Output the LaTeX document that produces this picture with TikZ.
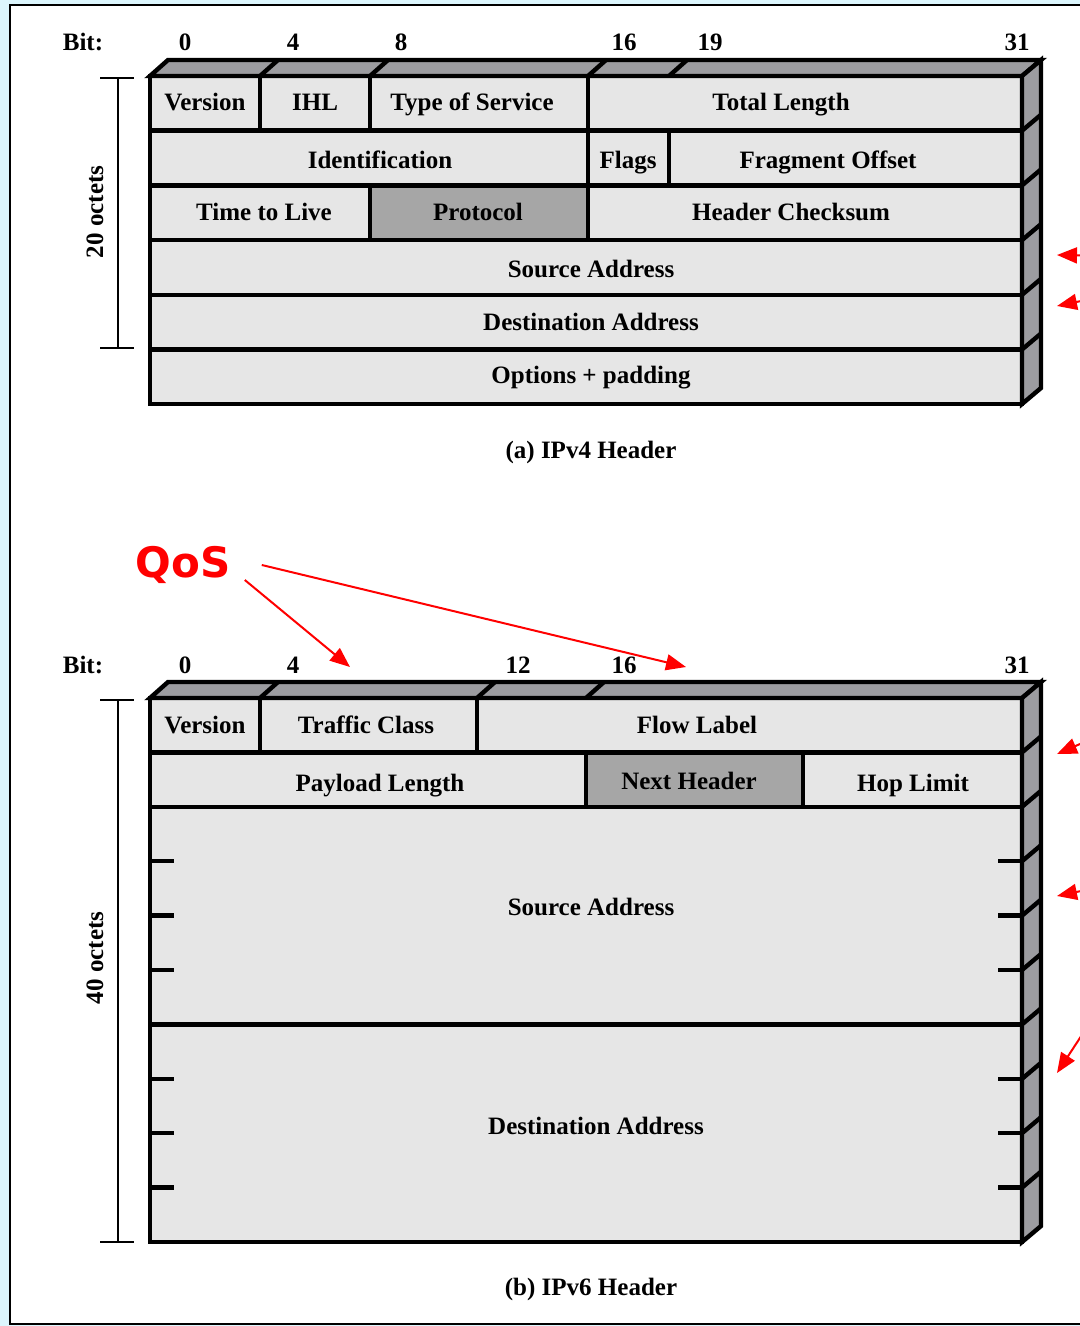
\documentclass[tikz,border=0pt]{standalone}
\usepackage{fontspec}
\setmainfont{Liberation Serif}
\newfontfamily\qosfont{DejaVu Sans}
\usetikzlibrary{arrows.meta, positioning}
\definecolor{bgcyan}{RGB}{220,246,253}
\definecolor{cellgray}{RGB}{230,230,230}
\definecolor{fielddark}{RGB}{166,166,166}
\definecolor{facegray}{RGB}{156,156,160}
\definecolor{qosred}{RGB}{255,0,0}

\begin{document}
\begin{tikzpicture}[
    x=0.5pt, y=-0.5pt,
    frame/.style={line width=2.2pt, line join=miter},
    face/.style={frame, fill=facegray},
    fld/.style={font=\fontsize{12.5}{14}\selectfont\bfseries, inner sep=0pt,
                text height=8.5pt, text depth=2.5pt},
    octets/.style={line width=0.8pt},
    qoslbl/.style={font=\qosfont\bfseries\fontsize{21}{24}\selectfont, text=qosred, inner sep=0pt},
    qosarrow/.style={-{Triangle[length=10pt, width=8pt]}, qosred, line width=1pt}
]
\clip (0,0) rectangle (1080,1326);
\fill[bgcyan] (0,0) rectangle (1080,1326);
\draw[fill=white, line width=1pt] (10,5) rectangle (1120,1324);

% ---- IPv4 header ----
\fill[cellgray]  (150,76) rectangle (1022,404);
\fill[fielddark] (370,185.4) rectangle (588,240.1);
\draw[face] (150,76) -- (168,60) -- (1041,60) -- (1022,76) -- cycle;
\draw[face] (1022,76) -- (1041,60) -- (1041,388) -- (1022,404) -- cycle;
\draw[frame] (150,76) rectangle (1022,404);
\foreach \y in {130.7,185.4,240.1,294.8,349.5} {
  \draw[frame] (150,\y) -- (1022,\y);
  \draw[frame] (1022,\y) -- (1041,\y-16);
}
\foreach \x in {260,370,588,669} \draw[frame] (\x,76) -- (\x+18,60);
\draw[frame] (260,76) -- (260,130.7) (370,76) -- (370,130.7) (588,76) -- (588,130.7);
\draw[frame] (588,130.7) -- (588,185.4) (669,130.7) -- (669,185.4);
\draw[frame] (370,185.4) -- (370,240.1) (588,185.4) -- (588,240.1);

\node[fld] (v4bit) at (83,45)  {Bit:};
\node[fld] (v4b0)  at (185,45) {0};
\node[fld] (v4b4)  at (293,45) {4};
\node[fld] (v4b8)  at (401,45) {8};
\node[fld] (v4b16) at (624,45) {16};
\node[fld] (v4b19) at (710,45) {19};
\node[fld] (v4b31) at (1017,45) {31};

\node[fld] (v4ver)   at (205,105) {Version};
\node[fld] (v4ihl)   at (315,105) {IHL};
\node[fld] (v4tos)   at (472,105) {Type of Service};
\node[fld] (v4len)   at (781,105) {Total Length};
\node[fld] (v4id)    at (380,163) {Identification};
\node[fld] (v4flags) at (628,163) {Flags};
\node[fld] (v4frag)  at (828,163) {Fragment Offset};
\node[fld] (v4ttl)   at (264,215) {Time to Live};
\node[fld] (v4proto) at (478,215) {Protocol};
\node[fld] (v4chk)   at (791,215) {Header Checksum};
\node[fld] (v4src)   at (591,272) {Source Address};
\node[fld] (v4dst)   at (591,324) {Destination Address};
\node[fld] (v4opt)   at (591,377) {Options + padding};

\draw[octets] (100,78) -- (134,78) (118,78) -- (118,348) (100,348) -- (134,348);
\node[fld, rotate=90] (v4oct) at (97,212) {20 octets};
\node[fld] (v4cap) at (591,452) {(a) IPv4 Header};

% ---- IPv6 header ----
\fill[cellgray]  (150,698) rectangle (1022,1242);
\fill[fielddark] (586,752.4) rectangle (803,806.8);
\draw[face] (150,698) -- (168,682) -- (1041,682) -- (1022,698) -- cycle;
\draw[face] (1022,698) -- (1041,682) -- (1041,1226) -- (1022,1242) -- cycle;
\draw[frame] (150,698) rectangle (1022,1242);
\foreach \y in {752.4,806.8,1024.4} \draw[frame] (150,\y) -- (1022,\y);
\foreach \y in {861.2,915.6,970,1078.8,1133.2,1187.6}
  \draw[frame] (150,\y) -- (174,\y) (998,\y) -- (1022,\y);
\foreach \y in {752.4,806.8,861.2,915.6,970,1024.4,1078.8,1133.2,1187.6}
  \draw[frame] (1022,\y) -- (1041,\y-16);
\foreach \x in {260,477,586} \draw[frame] (\x,698) -- (\x+18,682);
\draw[frame] (260,698) -- (260,752.4) (477,698) -- (477,752.4);
\draw[frame] (586,752.4) -- (586,806.8) (803,752.4) -- (803,806.8);

\node[fld] (v6bit) at (83,667)  {Bit:};
\node[fld] (v6b0)  at (185,667) {0};
\node[fld] (v6b4)  at (293,667) {4};
\node[fld] (v6b12) at (518,667) {12};
\node[fld] (v6b16) at (624,667) {16};
\node[fld] (v6b31) at (1017,667) {31};

\node[fld] (v6ver)  at (205,727) {Version};
\node[fld] (v6tc)   at (366,727) {Traffic Class};
\node[fld] (v6flow) at (697,727) {Flow Label};
\node[fld] (v6plen) at (380,785) {Payload Length};
\node[fld] (v6next) at (689,783) {Next Header};
\node[fld] (v6hop)  at (913,785) {Hop Limit};
\node[fld] (v6src)  at (591,909) {Source Address};
\node[fld] (v6dst)  at (596,1128) {Destination Address};

\draw[octets] (100,700) -- (134,700) (118,700) -- (118,1242) (100,1242) -- (134,1242);
\node[fld, rotate=90] (v6oct) at (97,958) {40 octets};
\node[fld] (v6cap) at (591,1289) {(b) IPv6 Header};

% ---- QoS pointers ----
\node[qoslbl] (qos) at (183,565) {QoS};
\coordinate (tcmark) at (350,667);
\coordinate (flmark) at (686,667);
\draw[qosarrow] ([shift={(7pt,-7.5pt)}]qos.east) -- (tcmark);
\draw[qosarrow] ([xshift=15.5pt]qos.east) -- (flmark);

% ---- pointers from the right ----
\coordinate (r1) at (1110,256);  \coordinate (t1) at (1057,255);
\coordinate (r2) at (1110,295);  \coordinate (t2) at (1057,306);
\coordinate (r3) at (1110,731);  \coordinate (t3) at (1057,754);
\coordinate (r4) at (1110,885);  \coordinate (t4) at (1057,896);
\coordinate (r5) at (1110,992);  \coordinate (t5) at (1057,1073);
\foreach \i in {1,...,5} \draw[qosarrow] (r\i) -- (t\i);

\end{tikzpicture}
\end{document}
